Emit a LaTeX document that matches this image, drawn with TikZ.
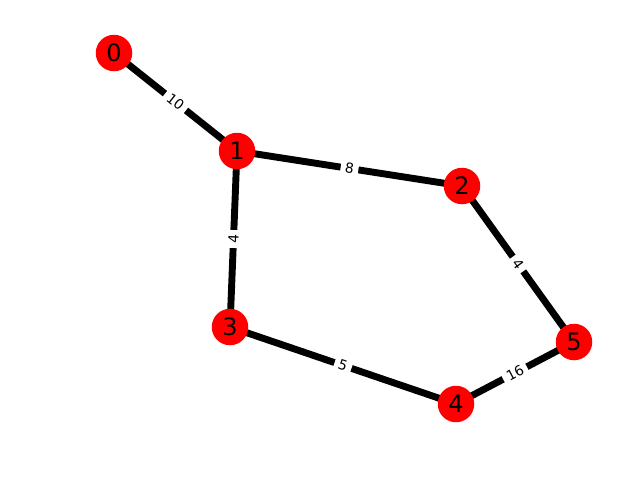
\documentclass[tikz,border=0pt]{standalone}
\usepackage{fontspec}
\setmainfont{DejaVu Sans}
\begin{document}
\begin{tikzpicture}[x=1pt,y=-1pt,
  vert/.style={circle,fill=red,minimum size=36.5pt,inner sep=0pt,font=\fontsize{24}{26}\selectfont},
  edge/.style={line width=6.9pt,black},
  wlabel/.style={midway,sloped,fill=white,rounded corners=2pt,inner xsep=4.5pt,inner ysep=3pt,font=\fontsize{13.9}{15}\selectfont}]
\useasboundingbox (0,0) rectangle (640,480);
\coordinate (p0) at (114,53);
\coordinate (p1) at (237,151);
\coordinate (p2) at (462,186);
\coordinate (p3) at (230,327);
\coordinate (p4) at (456,404);
\coordinate (p5) at (574,342);
\draw[edge] (p0) -- (p1);
\draw[edge] (p1) -- (p2);
\draw[edge] (p1) -- (p3);
\draw[edge] (p2) -- (p5);
\draw[edge] (p3) -- (p4);
\draw[edge] (p4) -- (p5);
\path (p0) -- node[wlabel] (l01) {10} (p1);
\path (p1) -- node[wlabel] (l12) {8} (p2);
\path (p1) -- node[wlabel] (l13) {4} (p3);
\path (p2) -- node[wlabel] (l25) {4} (p5);
\path (p3) -- node[wlabel] (l34) {5} (p4);
\path (p4) -- node[wlabel] (l45) {16} (p5);
\node[vert] (n0) at (p0) {0};
\node[vert] (n1) at (p1) {1};
\node[vert] (n2) at (p2) {2};
\node[vert] (n3) at (p3) {3};
\node[vert] (n4) at (p4) {4};
\node[vert] (n5) at (p5) {5};
\end{tikzpicture}
\end{document}
